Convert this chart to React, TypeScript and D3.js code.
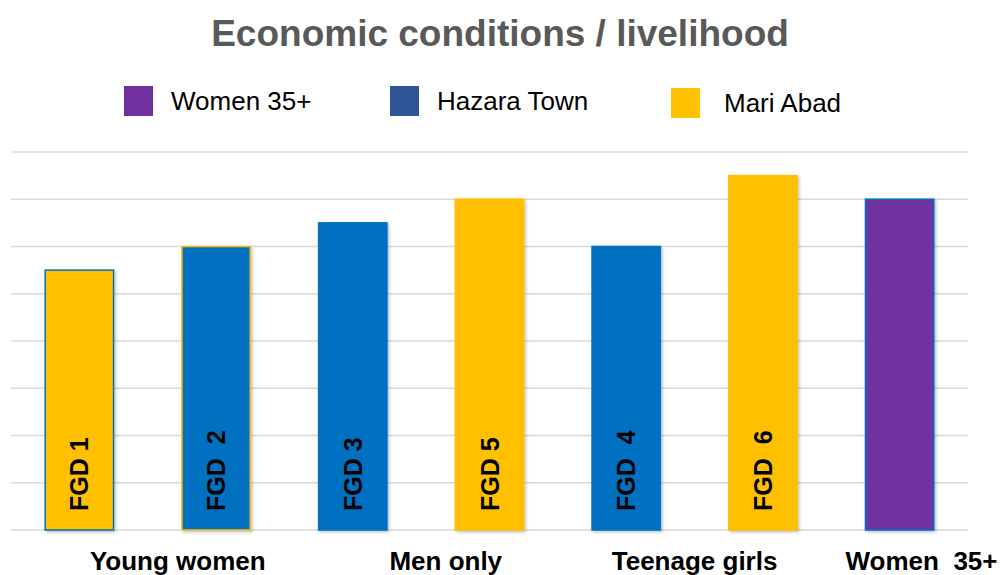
import * as d3 from "d3";
import { useEffect, useRef } from "react";

const barLabels = ["FGD 1", "FGD  2", "FGD 3", "FGD 5", "FGD  4", "FGD  6", ""];
const barValues = [5.5, 6, 6.5, 7, 6, 7.5, 7];
const barFills = ["#FFC000", "#0070C0", "#0070C0", "#FFC000", "#0070C0", "#FFC000", "#7030A0"];
const barStrokes = ["#0070C0", "#FFC000", "#0070C0", "#FFC000", "#0070C0", "#FFC000", "#0070C0"];

const groupLabels = ["Young women", "Men only", "Teenage girls", "Women  35+"];
const groupPositions = [0.72, 2.68, 4.5, 6.16];

const legendNames = ["Women 35+", "Hazara Town", "Mari Abad"];
const legendColors = ["#7030A0", "#2F5597", "#FFC000"];

const yTicks = [0, 1, 2, 3, 4, 5, 6, 7, 8];

const W = 1002;
const H = 575;
const FONT = "'Liberation Sans', Arial, sans-serif";

export default function App() {
	const svgRef = useRef<SVGSVGElement>(null);

	useEffect(() => {
		const svg = d3.select(svgRef.current);
		if (!svg.node()) return;
		svg.selectAll("*").remove();

		const left = 11;
		const right = 968;
		const top = 152;
		const bottom = 530;

		const x = d3
			.scaleBand<number>()
			.domain(d3.range(barValues.length))
			.range([left, right])
			.paddingInner(0.5)
			.paddingOuter(0.25);
		const y = d3.scaleLinear().domain([0, 8]).range([bottom, top]);
		const groupX = d3
			.scaleLinear()
			.domain([0, barValues.length - 1])
			.range([x(0)! + x.bandwidth() / 2, x(barValues.length - 1)! + x.bandwidth() / 2]);

		const defs = svg.append("defs");
		const f = defs
			.append("filter")
			.attr("id", "shadow")
			.attr("x", "-20%")
			.attr("y", "-20%")
			.attr("width", "140%")
			.attr("height", "140%");
		f.append("feDropShadow")
			.attr("dx", 1.5)
			.attr("dy", 1.5)
			.attr("stdDeviation", 1.5)
			.attr("flood-color", "#000")
			.attr("flood-opacity", 0.25);

		// title
		svg
			.append("text")
			.attr("x", 500)
			.attr("y", 46)
			.attr("text-anchor", "middle")
			.attr("fill", "#595959")
			.style("font-family", FONT)
			.style("font-weight", "700")
			.style("font-size", "37px")
			.text("Economic conditions / livelihood");

		// legend
		const legendX = [124, 390, 671];
		const legendTextX = [171, 437, 724];
		const legendY = [86, 86, 88];
		legendNames.forEach((name, i) => {
			svg
				.append("rect")
				.attr("x", legendX[i])
				.attr("y", legendY[i])
				.attr("width", 29)
				.attr("height", 30)
				.attr("fill", legendColors[i]);
			svg
				.append("text")
				.attr("x", legendTextX[i])
				.attr("y", legendY[i] + 24)
				.attr("fill", "#000")
				.style("font-family", FONT)
				.style("font-size", "26px")
				.text(name);
		});

		// gridlines
		svg
			.append("g")
			.selectAll("line")
			.data(yTicks)
			.join("line")
			.attr("x1", left)
			.attr("x2", right)
			.attr("y1", (d) => y(d))
			.attr("y2", (d) => y(d))
			.attr("stroke", "#d9d9d9")
			.attr("stroke-width", 1.5);

		// bars
		svg
			.append("g")
			.selectAll("rect")
			.data(barValues)
			.join("rect")
			.attr("x", (_d, i) => x(i)!)
			.attr("y", (d) => y(d))
			.attr("width", x.bandwidth())
			.attr("height", (d) => y(0) - y(d))
			.attr("fill", (_d, i) => barFills[i])
			.attr("stroke", (_d, i) => barStrokes[i])
			.attr("stroke-width", 1.5)
			.attr("filter", "url(#shadow)");

		// bar labels
		svg
			.append("g")
			.selectAll("text")
			.data(barLabels)
			.join("text")
			.attr(
				"transform",
				(_d, i) => `translate(${x(i)! + x.bandwidth() / 2 + 9},${bottom - 19}) rotate(-90)`,
			)
			.attr("fill", "#000")
			.style("font-family", FONT)
			.style("font-weight", "700")
			.style("font-size", "25px")
			.style("white-space", "pre")
			.text((d) => d);

		// group labels
		svg
			.append("g")
			.selectAll("text")
			.data(groupLabels)
			.join("text")
			.attr("x", (_d, i) => groupX(groupPositions[i]))
			.attr("y", 570)
			.attr("text-anchor", "middle")
			.attr("fill", "#000")
			.style("font-family", FONT)
			.style("font-weight", "700")
			.style("font-size", "26px")
			.style("white-space", "pre")
			.text((d) => d);
	}, []);

	return (
		<svg
			ref={svgRef}
			width={W}
			height={H}
			style={{ position: "absolute", left: 0, top: 0, background: "#fff" }}
		/>
	);
}
